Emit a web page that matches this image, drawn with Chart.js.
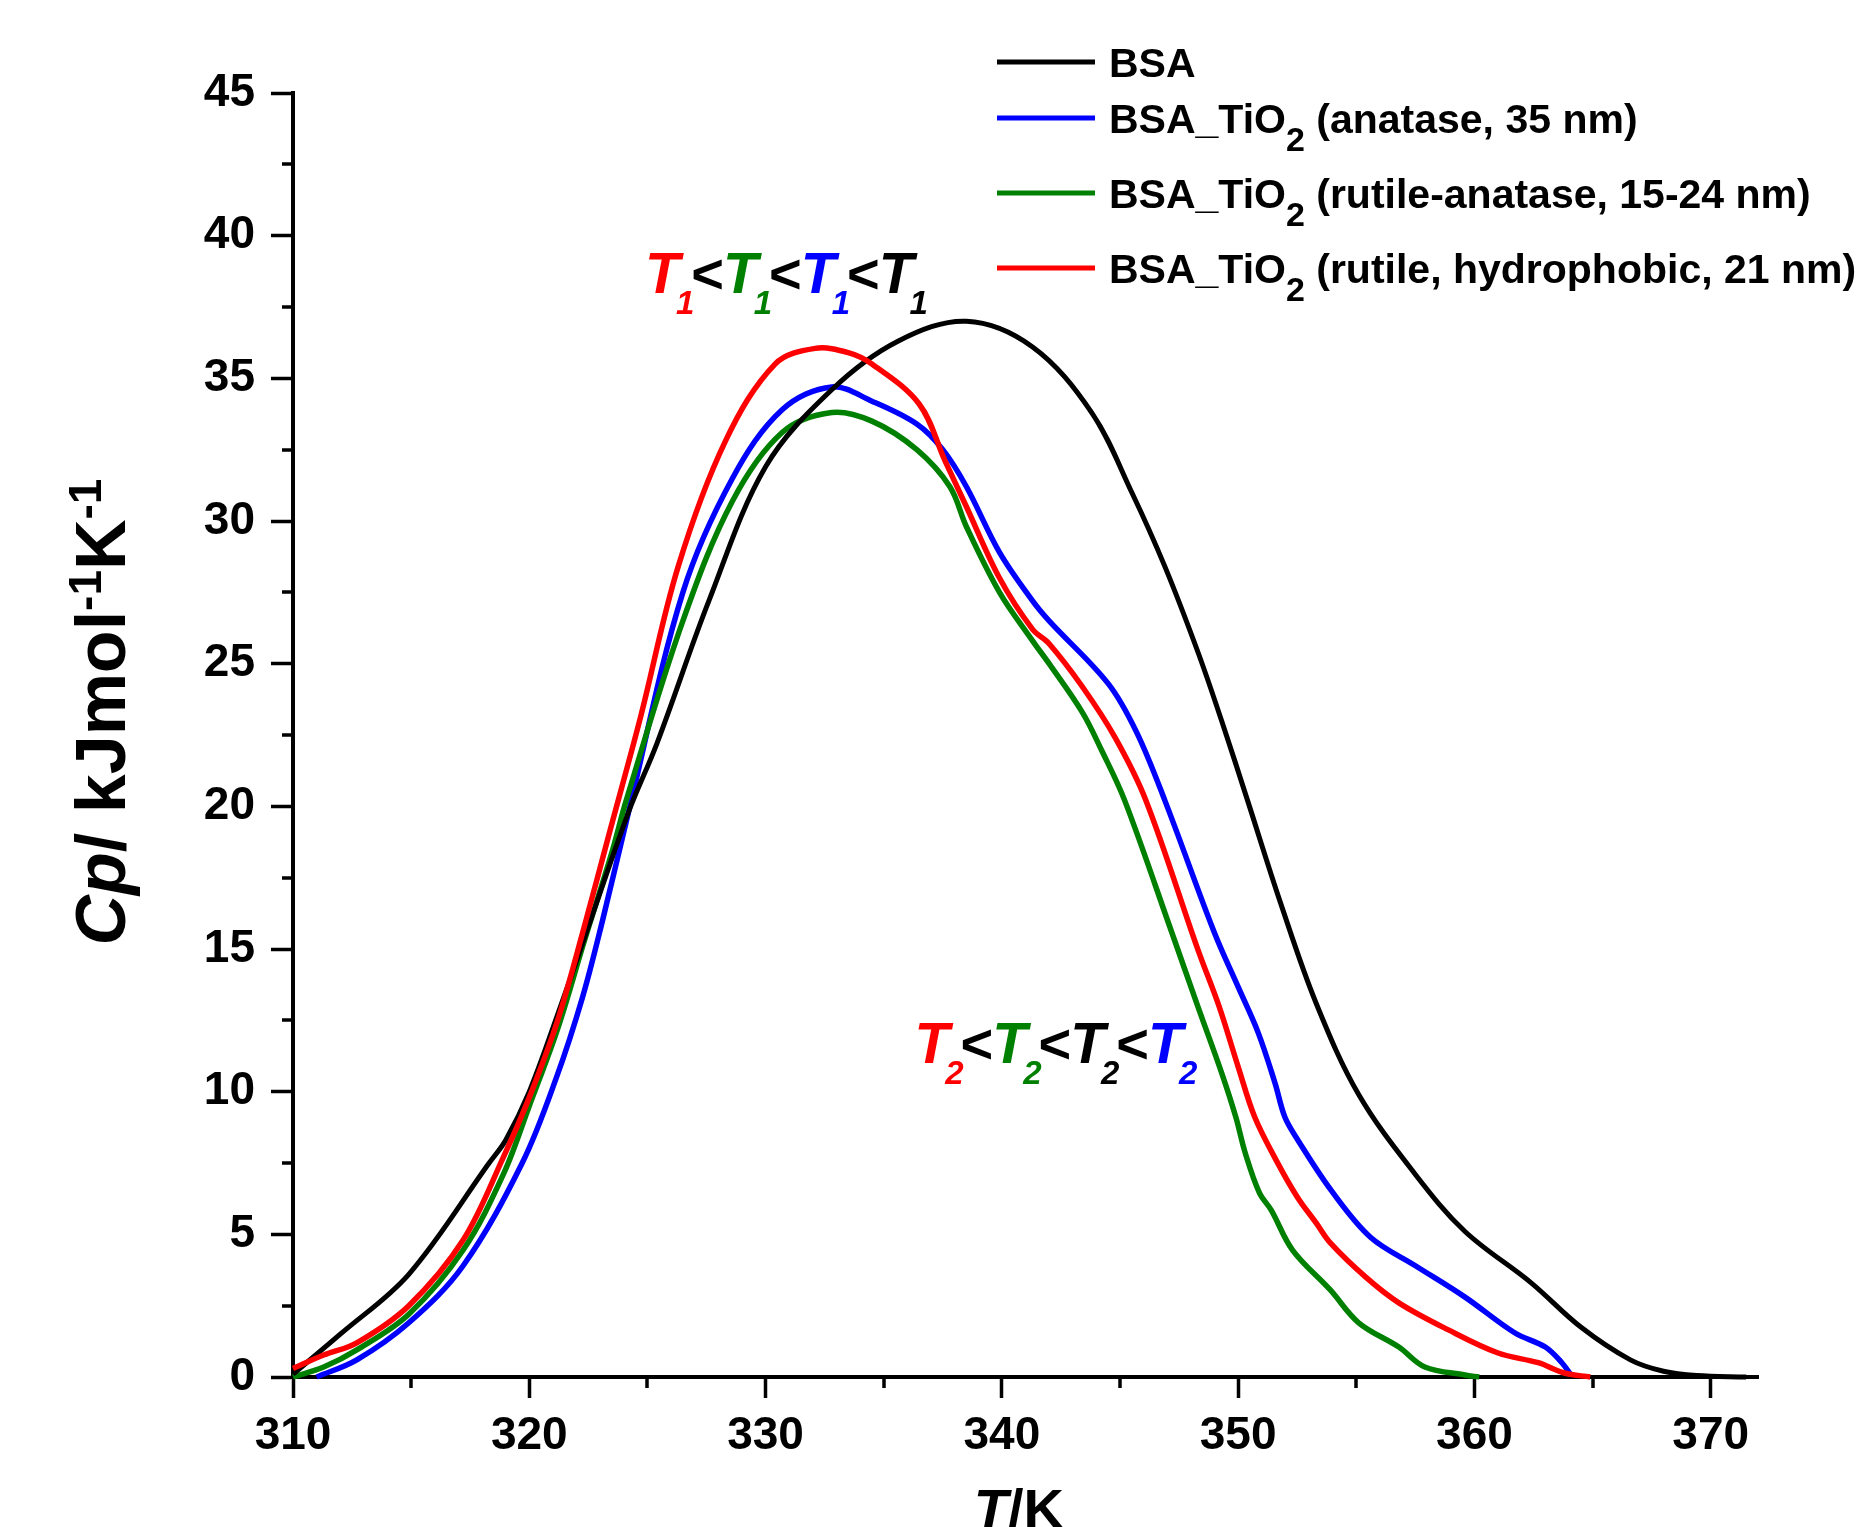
<!DOCTYPE html>
<html><head><meta charset="utf-8">
<script src="https://cdn.jsdelivr.net/npm/chart.js@4.4.1/dist/chart.umd.min.js"></script>
<style>html,body{margin:0;padding:0;background:#fff;}canvas{display:block;}</style>
</head><body>
<canvas id="c" width="1869" height="1527"></canvas>
<script>
// ---- data ----
const bsaT  = [310, 312, 314.9, 318.3, 319.0, 320.0, 321.2, 322.3, 324.2, 325.4, 327.6, 330.0, 332.8, 335.6, 338.5, 341.3, 343.8, 345.5, 346.9, 348.3, 349.3, 350.4, 351.8, 353.3, 355.1, 357.5, 359.6, 362.4, 364.5, 366.6, 368.0, 369.4, 371.5];
const bsaCp = [0.1, 1.5, 3.6, 7.5, 8.3, 10.0, 12.7, 15.3, 19.8, 22.2, 27.2, 31.9, 34.6, 36.3, 37.0, 36.1, 33.8, 31.0, 28.4, 25.4, 23.0, 20.2, 16.6, 13.1, 9.9, 7.1, 5.1, 3.3, 1.75, 0.6, 0.2, 0.05, 0];

const anataseT  = [311.0, 312.7, 314.9, 317.2, 319.7, 321.15, 322.25, 323.1, 324.2, 326.5, 328.6, 330.7, 332.8, 334.5, 336.4, 337.5, 338.5, 339.9, 341.3, 342.0, 344.5, 345.7, 346.9, 349.0, 350.0, 350.85, 351.56, 351.98, 352.53, 353.93, 355.6, 357.5, 359.6, 361.7, 363.0, 363.7, 364.1];
const anataseCp = [0, 0.6, 1.9, 3.9, 7.5, 10.5, 13.3, 16.0, 19.8, 27.5, 31.5, 33.9, 34.7, 34.2, 33.4, 32.5, 31.2, 28.9, 27.2, 26.5, 24.3, 22.6, 20.2, 15.56, 13.67, 12.06, 10.3, 9.1, 8.3, 6.55, 4.9, 3.9, 2.8, 1.55, 1.05, 0.5, 0.05];

const rutAnaT  = [310.0, 311.3, 312.7, 314.9, 317.2, 318.9, 320.0, 321.2, 322.3, 323.5, 324.1, 326.5, 328.6, 330.7, 332.8, 334.5, 336.4, 337.8, 338.5, 339.9, 341.3, 342.0, 343.4, 344.2, 345.2, 347.2, 348.3, 349.3, 349.9, 350.3, 350.9, 351.4, 352.3, 353.9, 355.1, 356.8, 357.9, 359.6, 360.2];
const rutAnaCp = [0, 0.35, 0.95, 2.2, 4.45, 7.1, 9.5, 12.2, 15.2, 18.4, 20.2, 26.5, 30.7, 33.1, 33.8, 33.5, 32.5, 31.2, 29.8, 27.5, 25.8, 25.0, 23.3, 22.0, 20.2, 15.56, 12.97, 10.66, 9.11, 7.85, 6.45, 5.85, 4.45, 3.05, 1.9, 1.05, 0.35, 0.07, 0];

const rutHydT  = [310.0, 311.3, 312.7, 314.9, 317.2, 318.9, 320.0, 321.2, 322.3, 323.4, 324.7, 326.3, 328.3, 330.4, 332.1, 333.5, 334.5, 336.5, 337.6, 338.5, 339.9, 341.3, 342.0, 343.4, 344.8, 346.1, 348.3, 349.2, 350.0, 350.7, 351.6, 352.5, 353.3, 353.9, 355.4, 356.8, 358.9, 361.0, 362.7, 363.8, 364.9];
const rutHydCp = [0.3, 0.77, 1.2, 2.5, 4.8, 7.7, 9.8, 12.5, 15.7, 19.1, 23.1, 28.4, 32.8, 35.5, 36.05, 35.9, 35.5, 34.1, 32.1, 30.5, 28.0, 26.2, 25.7, 24.2, 22.4, 20.2, 14.97, 12.97, 10.87, 9.11, 7.61, 6.31, 5.4, 4.7, 3.5, 2.6, 1.65, 0.84, 0.5, 0.14, 0];

const xTickValues = [310, 320, 330, 340, 350, 360, 370];
const xMinorValues = [315, 325, 335, 345, 355, 365];
const yTickValues = [0, 5, 10, 15, 20, 25, 30, 35, 40, 45];
const yMinorValues = [2.5, 7.5, 12.5, 17.5, 22.5, 27.5, 32.5, 37.5, 42.5];

const seriesNames = ['BSA', 'BSA_TiO', 'BSA_TiO', 'BSA_TiO'];
const seriesSuffix = ['', ' (anatase, 35 nm)', ' (rutile-anatase, 15-24 nm)', ' (rutile, hydrophobic, 21 nm)'];
const seriesColors = ['#000000', '#0000ff', '#008000', '#ff0000'];

// ---- helpers ----
const FAM = '"Liberation Sans", Arial, Helvetica, sans-serif';
function pts(xs, ys) { return xs.map((x, i) => ({ x: x, y: ys[i] })); }
function drawRuns(ctx, x, y, runs) {
  let cx = x;
  runs.forEach(r => {
    ctx.font = r.font;
    ctx.fillStyle = r.color || '#000';
    ctx.fillText(r.text, cx, y + (r.dy || 0));
    cx += ctx.measureText(r.text).width + (r.kern || 0);
  });
  return cx;
}
function runsWidth(ctx, runs) {
  let w = 0;
  runs.forEach(r => { ctx.font = r.font; w += ctx.measureText(r.text).width + (r.kern || 0); });
  return w;
}

const decor = {
  id: 'decor',
  afterDraw(chart) {
    const ctx = chart.ctx;
    const xs = chart.scales.x, ys = chart.scales.y;
    const area = chart.chartArea;
    ctx.save();
    // minor ticks
    ctx.strokeStyle = '#000';
    ctx.lineWidth = 3.5;
    ctx.beginPath();
    yMinorValues.forEach(v => {
      const p = Math.round(ys.getPixelForValue(v));
      ctx.moveTo(area.left, p); ctx.lineTo(area.left - 11, p);
    });
    xMinorValues.forEach(v => {
      const p = Math.round(xs.getPixelForValue(v));
      ctx.moveTo(p, area.bottom); ctx.lineTo(p, area.bottom + 11);
    });
    ctx.stroke();

    ctx.textBaseline = 'alphabetic';
    ctx.textAlign = 'left';

    // y-axis title
    const B = 'bold 70px ' + FAM, BI = 'italic bold 70px ' + FAM, S = 'bold 46px ' + FAM;
    const yRuns = [
      { text: 'Cp', font: BI }, { text: '/ kJmol', font: B },
      { text: '-1', font: S, dy: -24 }, { text: 'K', font: B }, { text: '-1', font: S, dy: -24 }
    ];
    const yw = runsWidth(ctx, yRuns);
    ctx.save();
    ctx.translate(125, 712);
    ctx.rotate(-Math.PI / 2);
    drawRuns(ctx, -yw / 2, 0, yRuns);
    ctx.restore();

    // x-axis title
    const xRuns = [{ text: 'T', font: 'italic bold 56px ' + FAM }, { text: '/K', font: 'bold 56px ' + FAM }];
    const xw = runsWidth(ctx, xRuns);
    drawRuns(ctx, xs.getPixelForValue(340) - xw / 2 + 17, 1528, xRuns);

    // legend
    const LF = 'bold 41px ' + FAM, LS = 'bold 34px ' + FAM;
    const rowY = [62, 118, 193, 268];
    seriesNames.forEach((name, i) => {
      ctx.strokeStyle = seriesColors[i];
      ctx.lineWidth = 5;
      ctx.beginPath(); ctx.moveTo(997, rowY[i]); ctx.lineTo(1095, rowY[i]); ctx.stroke();
      const runs = [{ text: name, font: LF }];
      if (i > 0) { runs.push({ text: '2', font: LS, dy: 18 }); runs.push({ text: seriesSuffix[i], font: LF }); }
      drawRuns(ctx, 1109, rowY[i] + 15, runs);
    });

    // annotations
    const TF = 'italic bold 57px ' + FAM, LT = 'bold 56px ' + FAM, SF = 'italic bold 33px ' + FAM;
    function seq(colors, sub) {
      const r = [];
      colors.forEach((c, i) => {
        r.push({ text: 'T', font: TF, color: c, kern: -4 });
        r.push({ text: sub, font: SF, color: c, dy: 21, kern: -3 });
        if (i < colors.length - 1) r.push({ text: '<', font: LT, color: '#000', kern: -1 });
      });
      return r;
    }
    drawRuns(ctx, xs.getPixelForValue(324.9), ys.getPixelForValue(38.0),
      seq(['#ff0000', '#008000', '#0000ff', '#000000'], '1'));
    drawRuns(ctx, xs.getPixelForValue(336.3), ys.getPixelForValue(11.0),
      seq(['#ff0000', '#008000', '#000000', '#0000ff'], '2'));
    ctx.restore();
  }
};

const tickFont = { family: FAM, size: 46, weight: 'bold' };
function ds(label, xsArr, ysArr, color, width, order) {
  return {
    label: label, data: pts(xsArr, ysArr), borderColor: color, backgroundColor: color,
    borderWidth: width, pointRadius: 0, fill: false, tension: 0.35,
    clip: false, order: order
  };
}

new Chart(document.getElementById('c').getContext('2d'), {
  type: 'line',
  data: {
    datasets: [
      ds('BSA', bsaT, bsaCp, seriesColors[0], 5, 1),
      ds('BSA_TiO2 (anatase, 35 nm)', anataseT, anataseCp, seriesColors[1], 5.5, 3),
      ds('BSA_TiO2 (rutile-anatase, 15-24 nm)', rutAnaT, rutAnaCp, seriesColors[2], 5.5, 2),
      ds('BSA_TiO2 (rutile, hydrophobic, 21 nm)', rutHydT, rutHydCp, seriesColors[3], 5.5, 0)
    ]
  },
  options: {
    responsive: false,
    animation: false,
    devicePixelRatio: 1,
    layout: { padding: { left: 0, right: 111, top: 93, bottom: 0 } },
    plugins: { legend: { display: false }, tooltip: { enabled: false } },
    scales: {
      x: {
        type: 'linear', min: 310, max: 372,
        afterBuildTicks: s => { s.ticks = xTickValues.map(v => ({ value: v })); },
        afterFit: s => { s.height = 150; },
        grid: { display: true, drawOnChartArea: false, drawTicks: true, tickLength: 21, tickWidth: 3.5, tickColor: '#000', color: '#000' },
        border: { display: true, color: '#000', width: 4 },
        ticks: { font: tickFont, color: '#000', padding: 11, maxRotation: 0, autoSkip: false }
      },
      y: {
        type: 'linear', min: 0, max: 45,
        afterBuildTicks: s => { s.ticks = yTickValues.map(v => ({ value: v })); },
        afterFit: s => { s.width = 293; },
        grid: { display: true, drawOnChartArea: false, drawTicks: true, tickLength: 22, tickWidth: 3.5, tickColor: '#000', color: '#000' },
        border: { display: true, color: '#000', width: 4 },
        ticks: { font: tickFont, color: '#000', padding: 16, autoSkip: false }
      }
    }
  },
  plugins: [decor]
});
</script>
</body></html>
